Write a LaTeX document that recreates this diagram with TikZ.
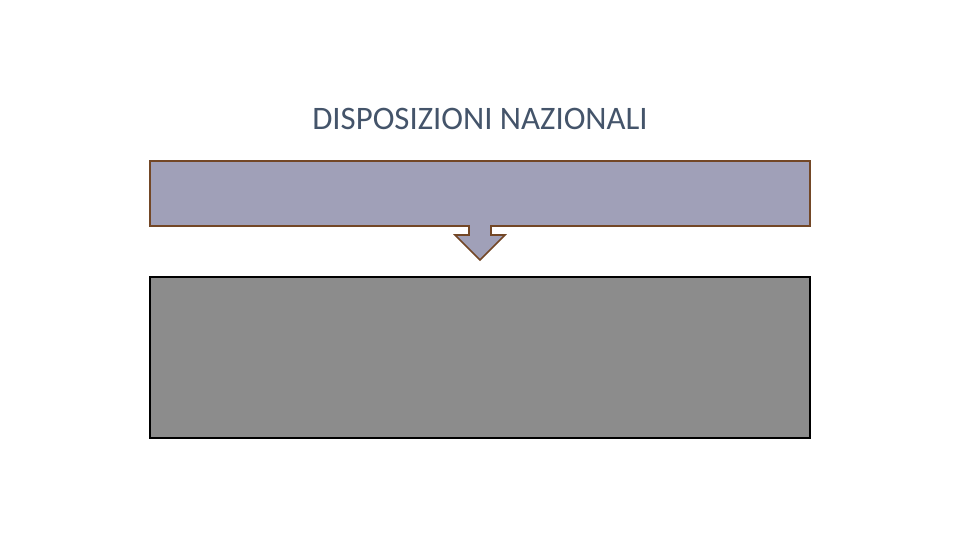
\documentclass[tikz,border=0pt]{standalone}
\usepackage{fontspec}
\setmainfont{Carlito}
\usetikzlibrary{positioning}
\definecolor{titlegray}{HTML}{44546A}
\definecolor{calloutfill}{HTML}{A0A0B8}
\definecolor{calloutline}{HTML}{734726}
\definecolor{panelfill}{HTML}{8C8C8C}

\begin{document}
\begin{tikzpicture}[x=0.75pt, y=-0.75pt, callout/.style={draw=calloutline, fill=calloutfill, line width=1.2pt, line join=miter}, panel/.style={draw=black, fill=panelfill, line width=1.5pt, minimum width=495pt, minimum height=120.75pt, inner sep=0pt}]
		\useasboundingbox (0,0) rectangle (960,540);
		\node[text=titlegray, font=\fontsize{24.6}{29}\selectfont] (title) at (480,119) {DISPOSIZIONI NAZIONALI};

		% callout with arrow pointing down
		\coordinate (tl) at (150,161);
		\coordinate (br) at (810,226);
		\coordinate (tip) at (480,260);
		\draw[callout] (tl) -- (br |- tl) -- (br) -- (491,226) -- (491,235) -- (505,235) -- (tip) -- (455,235) -- (469,235) -- (469,226) -- (tl |- br) -- cycle;

		\node[panel] (panel) at (480,357.5) {};
	\end{tikzpicture}
\end{document}
